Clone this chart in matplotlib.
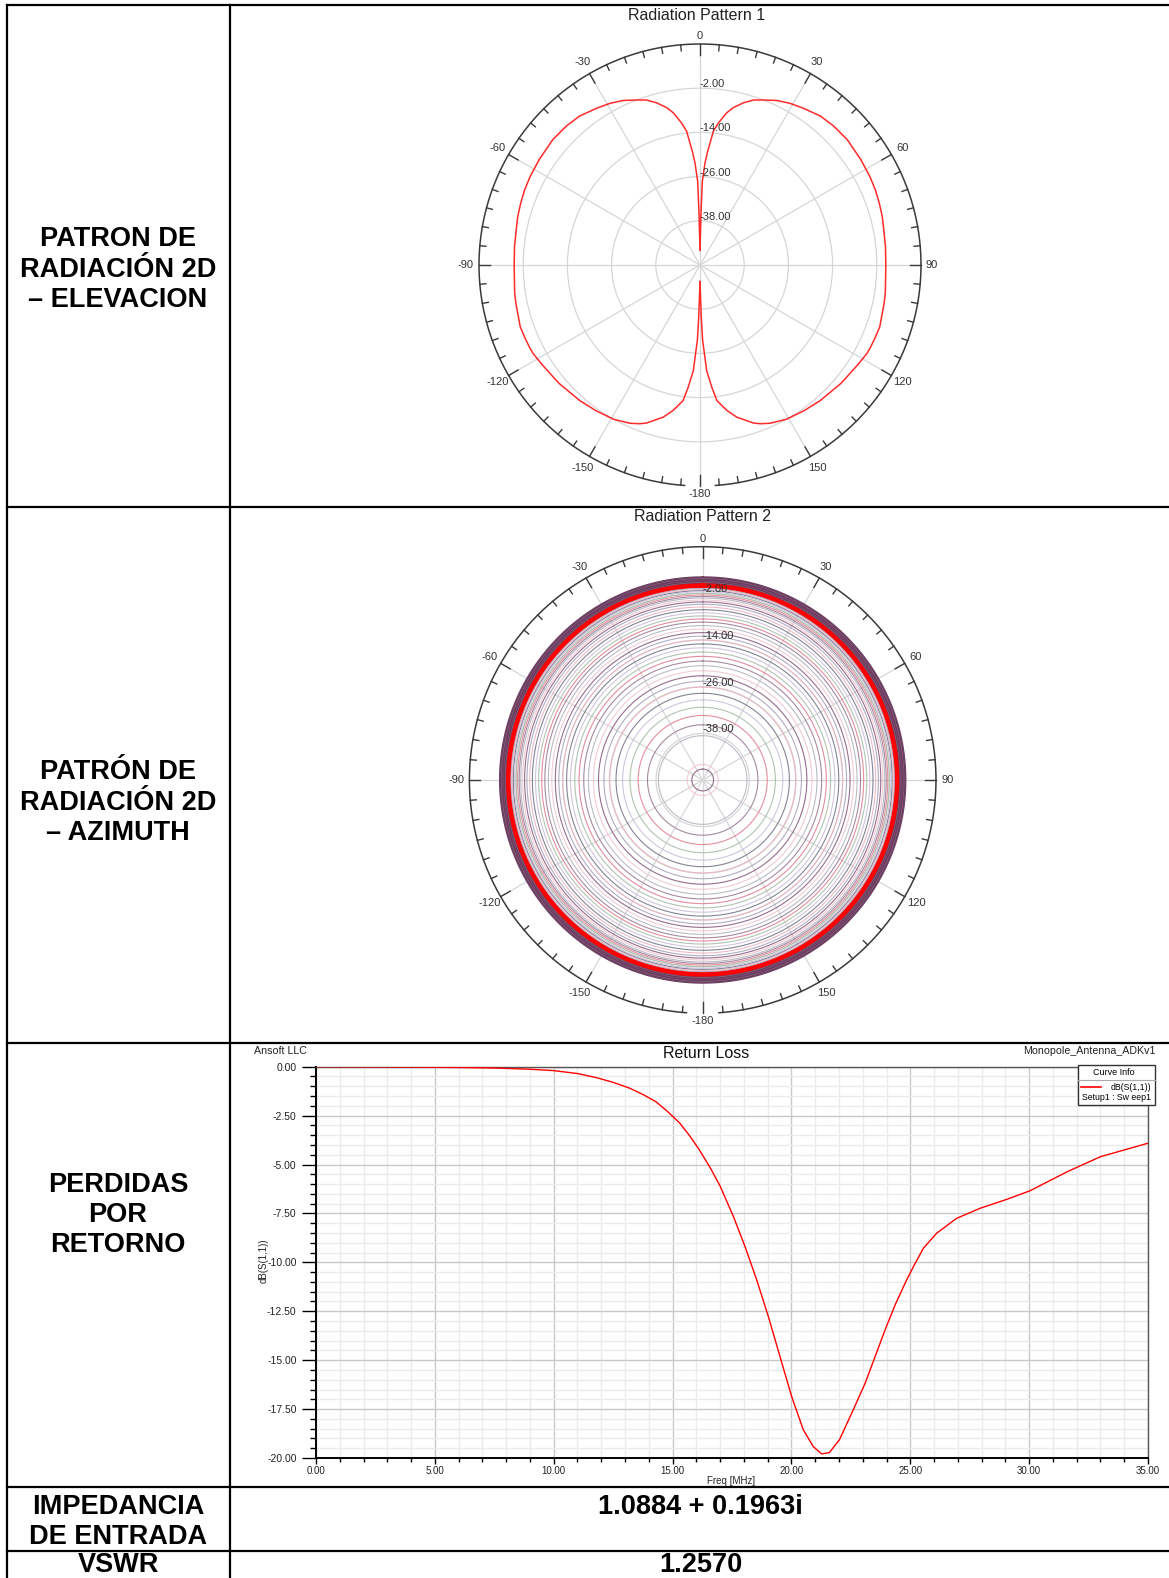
import numpy as np
import matplotlib
matplotlib.use("Agg")
import matplotlib.pyplot as plt
from matplotlib.patches import Rectangle

plt.rcParams['font.family'] = ['Liberation Sans', 'DejaVu Sans']

# Figure size in pixels
W, H = 1169, 1578

# Radiation pattern 1 (elevation cut), theta in degrees and gain in dB
elev_theta_deg = [0, 1.1, 1.6, 2.8, 3.7, 4.7, 5.7, 7.4, 10, 12, 15, 18, 21.1, 25, 29.2,
                  33.5, 39, 43.9, 49.6, 56.7, 62.3, 66.8, 70.9, 75.1, 79.2, 84.4, 90,
                  98.7, 101.8, 108.9, 112.3, 115.7, 117.9, 122.1, 128.7, 130.2, 138.4,
                  144.5, 146.9, 150.7, 156.1, 159.2, 161.3, 166.4, 169.6, 172.9, 174.5,
                  176.4, 178, 178.6, 180]
elev_gain_db = [-46, -35.9, -27.3, -22.3, -19.5, -16.8, -13.5, -11.1, -8.0, -6.3, -4.4,
                -2.9, -2.0, -0.7, 0.25, 1.0, 2.0, 2.35, 2.5, 2.2, 2.0, 1.8, 1.5, 1.2,
                0.8, 0.6, 0.45, 0.9, 1.05, 1.6, 1.5, 1.4, 1.3, 0.7, 0.05, -0.05, -0.8,
                -1.4, -1.7, -2.0, -3.0, -3.9, -4.7, -7.5, -9.9, -12.9, -16.7, -21.3,
                -29.6, -35.9, -45.5]

# Radiation pattern 2 (azimuth cuts): one circle per elevation, gain in dB
az_band_db = [2.2, 2.0, 1.9, 1.7, 1.5, 1.3, 1.1, 0.9, 0.7, 0.5]
az_main_db = 0.0
az_inner_db = [-0.4, -0.7, -1.0, -1.3, -1.6, -2.0, -2.4, -2.8, -3.2, -3.7, -4.2, -4.8,
               -5.5, -6.2, -7.0, -7.8, -8.6, -9.4, -10.3, -11.2, -12.1, -13.0, -14.0,
               -15.0, -16.0, -17.1, -18.2, -19.4, -20.6, -21.9, -23.2, -24.6, -26.1,
               -27.7, -29.4, -31.3, -33.4, -35.8, -38.6, -46.0, -47.2]

# Polar scale
R_MIN, R_MAX = -50, 10
ring_db = [-38, -26, -14, -2]
ring_labels = ['-38.00', '-26.00', '-14.00', '-2.00']
angle_ticks = [0, 30, 60, 90, 120, 150, 180, -150, -120, -90, -60, -30]
angle_labels = ['0', '30', '60', '90', '120', '150', '-180', '-150', '-120', '-90', '-60', '-30']

# Return loss
rl_freq_mhz = [0, 2, 4, 6, 7.6, 9, 10, 11, 11.8, 12.5, 13.2, 13.8, 14.3, 14.8, 15.3,
               15.7, 16.1, 16.6, 17.0, 17.56, 18.05, 18.54, 19.03, 19.52, 20.01, 20.5,
               20.92, 21.27, 21.6, 22.02, 22.6, 23.1, 23.52, 23.94, 24.36, 24.78, 25.13,
               25.55, 26.11, 26.95, 27.93, 29.06, 30.04, 31.6, 33.0, 35.0]
rl_db = [0.0, -0.01, -0.02, -0.04, -0.07, -0.13, -0.2, -0.35, -0.56, -0.8, -1.1, -1.45,
         -1.79, -2.3, -2.88, -3.5, -4.2, -5.2, -6.1, -7.66, -9.2, -10.9, -12.77, -14.82,
         -16.86, -18.56, -19.42, -19.79, -19.72, -19.07, -17.54, -16.18, -14.82, -13.45,
         -12.18, -11.07, -10.22, -9.28, -8.51, -7.75, -7.24, -6.78, -6.34, -5.37, -4.6, -3.91]

# Table text
row_labels = [['PATRON DE', 'RADIACIÓN 2D', '– ELEVACION'],
              ['PATRÓN DE', 'RADIACIÓN 2D', '– AZIMUTH'],
              ['PERDIDAS', 'POR', 'RETORNO'],
              ['IMPEDANCIA', 'DE ENTRADA'],
              ['VSWR']]
impedance_text = '1.0884 + 0.1963i'
vswr_text = '1.2570'

band_colors = ['#6e3c60', '#7d5072', '#5e3654', '#8a6080', '#6a3a5c']
inner_colors = ['#8a5e80', '#a9a3bd', '#eab3c1', '#77778a', '#cbbfdc', '#a9bea9',
                '#e08294', '#9c7d95', '#b4b4c0', '#f1c6d0']


def px_rect(x0, y0, x1, y1):
    return [x0 / W, 1 - y1 / H, (x1 - x0) / W, (y1 - y0) / H]


fig = plt.figure(figsize=(W / 100, H / 100), dpi=100)
fig.patch.set_facecolor('white')


def polar_panel(cx, cy, R):
    ax = fig.add_axes(px_rect(cx - R, cy - R, cx + R, cy + R), projection='polar')
    ax.set_theta_zero_location('N')
    ax.set_theta_direction(-1)
    ax.set_ylim(R_MIN, R_MAX)
    ax.set_xticks(np.deg2rad(np.arange(0, 360, 30)))
    ax.set_xticklabels([])
    ax.set_yticks(ring_db)
    ax.set_yticklabels([])
    ax.grid(True, color='#d6d6d6', lw=0.9)
    ax.spines['polar'].set_visible(False)
    ax.tick_params(length=0)
    ppd = R / (R_MAX - R_MIN)
    arc = np.deg2rad(np.linspace(-176, 176, 400))
    ax.plot(arc, np.full(arc.shape, R_MAX), color='#3a3a3a', lw=1.1, clip_on=False, zorder=5)
    for a in range(-175, 181, 5):
        L = 11 if a % 30 == 0 else 6
        ax.plot([np.deg2rad(a)] * 2, [R_MAX, R_MAX - L / ppd], color='#3a3a3a',
                lw=1, clip_on=False, zorder=5)
    for a, lab in zip(angle_ticks, angle_labels):
        t = np.deg2rad(a)
        if a == 0:
            ax.text(t, R_MAX + 3 / ppd, lab, ha='center', va='bottom', fontsize=8, color='#333333')
        elif a == 180:
            ax.text(t, R_MAX + 3 / ppd, lab, ha='center', va='top', fontsize=8, color='#333333')
        elif a == 90:
            ax.text(t, R_MAX + 5 / ppd, lab, ha='left', va='center', fontsize=8, color='#333333')
        elif a == -90:
            ax.text(t, R_MAX + 5 / ppd, lab, ha='right', va='center', fontsize=8, color='#333333')
        else:
            ax.text(t, R_MAX + 13 / ppd, lab, ha='center', va='center', fontsize=8,
                    color='#333333')
    for r, lab in zip(ring_db, ring_labels):
        ax.text(0, r + 4 / ppd, lab, ha='left', va='center', fontsize=8,
                color='#333333', zorder=6)
    return ax


# ---- Radiation Pattern 1 ----
ax1 = polar_panel(700, 265, 221)
th = np.deg2rad(np.array(elev_theta_deg))
g = np.array(elev_gain_db)
ax1.plot(th, g, color='#ff2a2a', lw=1.1, zorder=4)
ax1.plot(-th, g, color='#ff2a2a', lw=1.1, zorder=4)

# ---- Radiation Pattern 2 ----
ax2 = polar_panel(702.7, 780, 233.3)
full = np.linspace(0, 2 * np.pi, 361)
for i, lvl in enumerate(az_band_db):
    ax2.plot(full, np.full(full.shape, lvl), color=band_colors[i % len(band_colors)],
             lw=1.1, zorder=3)
for i, lvl in enumerate(az_inner_db):
    ax2.plot(full, np.full(full.shape, lvl), color=inner_colors[i % len(inner_colors)],
             lw=0.8, alpha=0.9, zorder=3)
ax2.plot(full, np.full(full.shape, az_main_db), color='#ff0000', lw=3.2, zorder=4)

# ---- Return Loss ----
ax3 = fig.add_axes(px_rect(316, 1066.7, 1148, 1458))
ax3.plot(rl_freq_mhz, rl_db, color='#ff0000', lw=1.0, zorder=3)
ax3.set_xlim(0, 35)
ax3.set_ylim(-20, 0)
xt = np.arange(0, 36, 5)
ax3.set_xticks(xt)
ax3.set_xticklabels([f'{v:.2f}' for v in xt])
ax3.set_xticks(np.arange(0, 36, 1), minor=True)
yt = np.arange(-20, 0.01, 2.5)
ax3.set_yticks(yt)
ax3.set_yticklabels([f'{v:.2f}' for v in yt])
ax3.set_yticks(np.arange(-20, 0.01, 0.5), minor=True)
ax3.grid(which='major', color='#c8c8c8', lw=1)
ax3.grid(which='minor', color='#ebebeb', lw=1)
ax3.set_axisbelow(True)
ax3.tick_params(axis='y', which='major', length=10, width=1, pad=4, labelsize=7.5,
                labelcolor='#222222')
ax3.tick_params(axis='y', which='minor', length=4.5, width=1)
ax3.tick_params(axis='x', which='major', length=4, width=1, pad=2, labelsize=7,
                labelcolor='#222222')
ax3.tick_params(axis='x', which='minor', length=3, width=1)
for s in ['top', 'right']:
    ax3.spines[s].set_color('#555555')
    ax3.spines[s].set_linewidth(1)
for s in ['left', 'bottom']:
    ax3.spines[s].set_color('#000000')
    ax3.spines[s].set_linewidth(1.4)

# ---- Overlay: table, titles, labels ----
ov = fig.add_axes([0, 0, 1, 1])
ov.set_xlim(0, W)
ov.set_ylim(H, 0)
ov.axis('off')

for y in [5, 507, 1043, 1487, 1551]:
    ov.plot([7, W], [y, y], color='black', lw=1.6)
for x in [7, 230]:
    ov.plot([x, x], [5, H], color='black', lw=1.6)

label_centers = [269.5, 802.5, 1215, 1522, 1565]
for lines, yc in zip(row_labels, label_centers):
    n = len(lines)
    for k, txt in enumerate(lines):
        y = yc + (k - (n - 1) / 2) * 30.5
        ov.text(118, y, txt, ha='center', va='center', fontsize=19.5,
                fontweight='bold', color='black')

ov.text(700.5, 1506.5, impedance_text, ha='center', va='center', fontsize=19.5,
        fontweight='bold')
ov.text(700.5, 1565, vswr_text, ha='center', va='center', fontsize=19.5, fontweight='bold')

ov.text(697, 15, 'Radiation Pattern 1', ha='center', va='center', fontsize=11.5,
        color='#222222')
ov.text(703, 516.5, 'Radiation Pattern 2', ha='center', va='center', fontsize=11.5,
        color='#222222')

ov.text(254, 1051, 'Ansoft LLC', ha='left', va='center', fontsize=7.7, color='#222222')
ov.text(706, 1054, 'Return Loss', ha='center', va='center', fontsize=11.5, color='#111111')
ov.text(1155, 1051, 'Monopole_Antenna_ADKv1', ha='right', va='center', fontsize=7.7,
        color='#222222')
ov.text(264, 1261, 'dB(S(1,1))', ha='center', va='center', fontsize=7, rotation=90,
        color='#222222')
ov.text(731, 1480.5, 'Freq [MHz]', ha='center', va='center', fontsize=7, color='#222222')

# Curve info box
ov.add_patch(Rectangle((1078, 1065), 77, 40, facecolor='white', edgecolor='#333333',
                       lw=1, zorder=5))
ov.plot([1078, 1155], [1080, 1080], color='#aaaaaa', lw=0.8, zorder=6)
ov.text(1114, 1072.5, 'Curve Info', ha='center', va='center', fontsize=6.5, zorder=6)
ov.plot([1081, 1101], [1087.3, 1087.3], color='#ff0000', lw=1.2, zorder=6)
ov.text(1151, 1087.5, 'dB(S(1,1))', ha='right', va='center', fontsize=6.3, zorder=6)
ov.text(1151, 1097.8, 'Setup1 : Sw eep1', ha='right', va='center', fontsize=6.3, zorder=6)

fig.savefig('out.png', dpi=100, facecolor='white')
